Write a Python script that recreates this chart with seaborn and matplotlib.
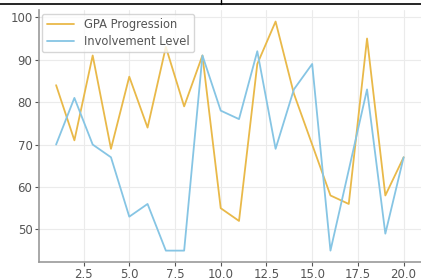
import matplotlib
matplotlib.use("Agg")
import matplotlib.pyplot as plt
from matplotlib.lines import Line2D
import seaborn as sns
import pandas as pd

weeks = list(range(1, 21))
gpa_progression = [84, 71, 91, 69, 86, 74, 93, 79, 91, 55, 52, 89, 99, 82, 70, 58, 56, 95, 58, 67]
involvement_level = [70, 81, 70, 67, 53, 56, 45, 45, 91, 78, 76, 92, 69, 83, 89, 45, 64, 83, 49, 67]

df = pd.DataFrame({"x": weeks, "GPA Progression": gpa_progression,
                   "Involvement Level": involvement_level})

sns.set_style("whitegrid", {"grid.color": "#ebebeb", "axes.edgecolor": "#999999",
                            "xtick.bottom": True, "ytick.left": True})
plt.rcParams['font.family'] = ['DejaVu Sans']

fig = plt.figure(figsize=(4.21, 2.8), dpi=100)
ax = fig.add_axes([0.092, 0.064, 0.908, 0.900])

sns.lineplot(data=df, x="x", y="GPA Progression", ax=ax, color="#e9b949",
             linewidth=1.3, label="GPA Progression")
sns.lineplot(data=df, x="x", y="Involvement Level", ax=ax, color="#86c5e4",
             linewidth=1.3, label="Involvement Level")

ax.set_xlabel("")
ax.set_ylabel("")
ax.set_xticks([2.5, 5.0, 7.5, 10.0, 12.5, 15.0, 17.5, 20.0])
ax.set_yticks([50, 60, 70, 80, 90, 100])
ax.tick_params(axis="both", labelsize=8.5, colors="#555555", length=3, pad=1.5)
for s in ["top", "right"]:
    ax.spines[s].set_visible(False)
for s in ["left", "bottom"]:
    ax.spines[s].set_linewidth(1.2)

leg = ax.legend(loc="upper left", fontsize=8.3, frameon=True, borderaxespad=0.3,
                handlelength=2.4, labelspacing=0.3)
for t in leg.get_texts():
    t.set_color("#555555")

fig.add_artist(Line2D([0, 1], [1 - 4/280, 1 - 4/280], color="black", linewidth=1.2,
                      transform=fig.transFigure))
fig.add_artist(Line2D([221/421, 221/421], [1 - 4/280, 1.0], color="black", linewidth=1.0,
                      transform=fig.transFigure))

fig.savefig("out.png", dpi=100)
